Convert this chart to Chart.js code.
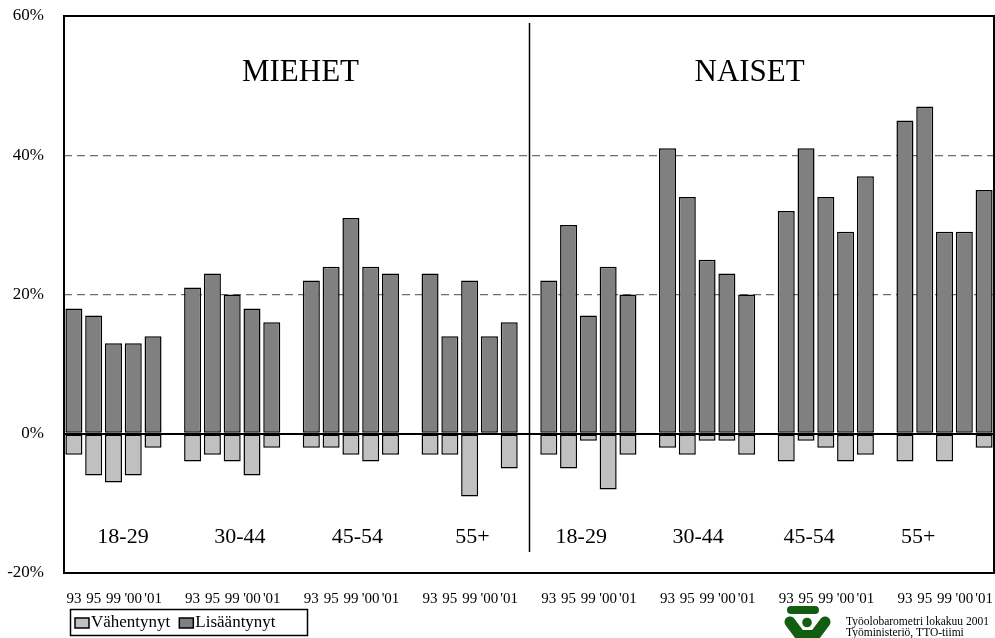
<!DOCTYPE html>
<html><head><meta charset="utf-8">
<script src="https://cdn.jsdelivr.net/npm/chart.js@4/dist/chart.umd.min.js"></script>
<style>html,body{margin:0;padding:0;background:#fff}#wrap{width:995px;height:638px}</style>
</head><body><div id="wrap"><canvas id="c" width="995" height="638"></canvas></div>
<script>
// ---- data ----
const years = ["93", "95", "99", "'00", "'01"];
const ageGroups = ["18-29", "30-44", "45-54", "55+"];
const sections = ["MIEHET", "NAISET"];
const seriesNames = ["Vähentynyt", "Lisääntynyt"];
const yTicks = [-20, 0, 20, 40, 60];
const menIncreased   = [[18,17,13,13,14],[21,23,20,18,16],[22,24,31,24,23],[23,14,22,14,16]];
const menDecreased   = [[-3,-6,-7,-6,-2],[-4,-3,-4,-6,-2],[-2,-2,-3,-4,-3],[-3,-3,-9,0,-5]];
const womenIncreased = [[22,30,17,24,20],[41,34,25,23,20],[32,41,34,29,37],[45,47,29,29,35]];
const womenDecreased = [[-3,-5,-1,-8,-3],[-2,-3,-1,-1,-3],[-4,-1,-2,-4,-3],[-4,0,-4,0,-2]];
const sourceLines = ["Työolobarometri lokakuu 2001", "Työministeriö, TTO-tiimi"];

// ---- layout constants (fractional category slots for annotation text) ----
const sectionSlots = [11.45, 34.15];
const groupLabelSlots = [2.48, 8.39, 14.33, 20.14, 25.64, 31.55, 37.16, 42.67];

const FONT = "'Liberation Serif', 'Times New Roman', serif";
const LIGHT = '#c0c0c0', DARK = '#808080';

// ---- build slot arrays (gap slot between groups) ----
const labels = [], inc = [], dec = [], groupCenters = [];
const allInc = [...menIncreased, ...womenIncreased];
const allDec = [...menDecreased, ...womenDecreased];
allInc.forEach((g, gi) => {
  if (gi > 0) { labels.push(''); inc.push(null); dec.push(null); }
  groupCenters.push(labels.length + 2);
  g.forEach((v, i) => { labels.push(years[i]); inc.push(v); dec.push(allDec[gi][i]); });
});
const dividerIndex = groupCenters[4] - 3; // gap slot between men and women

const decor = {
  id: 'decor',
  afterDraw(chart) {
    const c = chart.ctx, ca = chart.chartArea;
    const xs = chart.scales.x, ys = chart.scales.y;
    c.save();
    // frame
    c.strokeStyle = '#000'; c.lineWidth = 2;
    c.strokeRect(ca.left, ca.top, ca.width, ca.height);
    // divider
    c.lineWidth = 1.5;
    const dx = Math.round(xs.getPixelForValue(dividerIndex)) + 0.5;
    c.beginPath(); c.moveTo(dx, ys.getPixelForValue(59)); c.lineTo(dx, ys.getPixelForValue(-17)); c.stroke();
    // section titles
    c.fillStyle = '#000'; c.textAlign = 'center'; c.textBaseline = 'middle';
    c.font = "31px " + FONT;
    sections.forEach((s, i) => c.fillText(s, xs.getPixelForValue(sectionSlots[i]), ys.getPixelForValue(51.8)));
    // age group labels
    c.font = "22px " + FONT;
    groupLabelSlots.forEach((gs, i) => c.fillText(ageGroups[i % 4], xs.getPixelForValue(gs), ys.getPixelForValue(-14.9)));
    // legend
    const lx = 70, ly = 609, lw = 237, lh = 26;
    c.lineWidth = 1.5; c.strokeRect(lx + 0.5, ly + 0.5, lw, lh);
    c.font = "17px " + FONT; c.textAlign = 'left';
    let x = lx + 5;
    chart.data.datasets.forEach(ds => {
      c.fillStyle = ds.backgroundColor; c.fillRect(x, ly + 9, 14, 10);
      c.strokeStyle = '#000'; c.lineWidth = 1.5; c.strokeRect(x, ly + 9, 14, 10);
      c.fillStyle = '#000'; c.fillText(ds.label, x + 16, ly + lh / 2 + 1);
      x += 16 + c.measureText(ds.label).width + 9;
    });
    // logo
    c.fillStyle = '#115e11'; c.strokeStyle = '#115e11';
    c.beginPath();
    if (c.roundRect) c.roundRect(787, 606, 32, 8, 4); else c.rect(787, 606, 32, 8);
    c.fill();
    c.lineCap = 'round'; c.lineWidth = 11;
    c.beginPath(); c.moveTo(790, 622); c.lineTo(802, 638); c.stroke();
    c.beginPath(); c.moveTo(825, 622); c.lineTo(813, 638); c.stroke();
    c.beginPath(); c.arc(807, 622.5, 4.8, 0, Math.PI * 2); c.fill();
    c.beginPath(); c.moveTo(800, 638); c.lineTo(803, 630); c.lineTo(812, 630); c.lineTo(815, 638); c.closePath(); c.fill();
    // source text
    c.fillStyle = '#000'; c.font = "11.5px " + FONT; c.textAlign = 'left';
    c.fillText(sourceLines[0], 846, 622);
    c.fillText(sourceLines[1], 846, 633);
    c.restore();
  }
};

new Chart(document.getElementById('c'), {
  type: 'bar',
  data: {
    labels,
    datasets: [
      { label: seriesNames[0], data: dec, backgroundColor: LIGHT, borderColor: '#000', borderWidth: 1.5, borderSkipped: false, barPercentage: 0.86, categoryPercentage: 1 },
      { label: seriesNames[1], data: inc, backgroundColor: DARK, borderColor: '#000', borderWidth: 1.5, borderSkipped: false, barPercentage: 0.86, categoryPercentage: 1 }
    ]
  },
  options: {
    responsive: false, animation: false,
    layout: { padding: { top: 16, right: 1, left: 0, bottom: 0 } },
    plugins: { legend: { display: false }, tooltip: { enabled: false } },
    scales: {
      x: {
        stacked: true,
        grid: { display: false }, border: { display: false },
        ticks: { autoSkip: false, maxRotation: 0, minRotation: 0, padding: 9, color: '#000', font: { family: FONT, size: 15 } },
        afterFit: s => { s.height = 65; s.paddingLeft = 0; s.paddingRight = 0; }
      },
      y: {
        stacked: true, min: -20, max: 60,
        afterBuildTicks: s => { s.ticks = yTicks.map(v => ({ value: v })); },
        ticks: { padding: 20, color: '#000', font: { family: FONT, size: 17 }, callback: v => v + '%' },
        grid: {
          drawTicks: false,
          color: c => { const v = c.tick && c.tick.value; if (v === 0) return '#000'; if (v === 20 || v === 40) return '#6e6e6e'; return 'rgba(0,0,0,0)'; },
          lineWidth: c => (c.tick && c.tick.value === 0) ? 2 : 1.2
        },
        border: { display: false, dash: c => (c.tick && c.tick.value !== 0) ? [8, 5] : [] },
        afterFit: s => { s.width = 64; s.paddingTop = 0; s.paddingBottom = 0; }
      }
    }
  },
  plugins: [decor]
});
</script>
</body></html>
